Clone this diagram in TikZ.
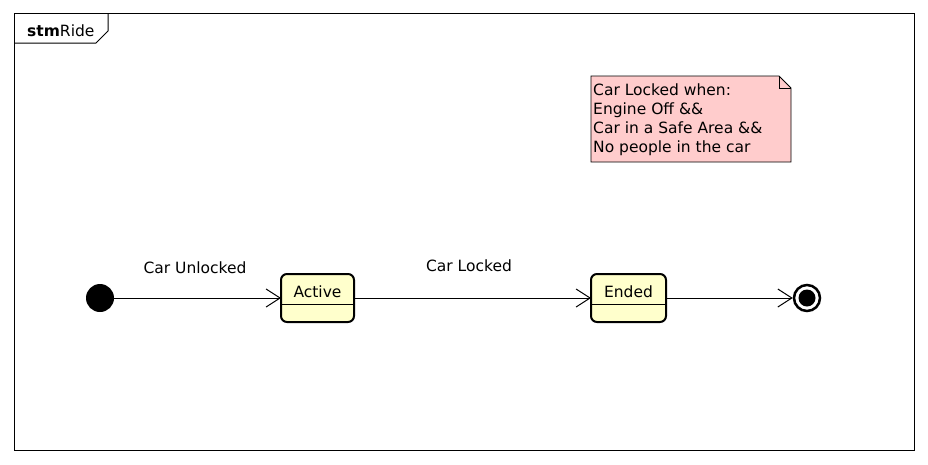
\documentclass[tikz,border=0pt]{standalone}
\usepackage{fontspec}
\setmainfont{DejaVu Sans}
\usetikzlibrary{arrows.meta}
\definecolor{notefill}{HTML}{FFCCCC}
\definecolor{statefill}{HTML}{FFFFCC}
\tikzset{
  statebox/.style={draw, line width=2pt, rounded corners=6pt, fill=statefill},
  trans/.style={line width=1pt, -{Straight Barb[length=14pt,width=18pt,line width=1pt]}},
  lbl/.style={font=\fontsize{15.5}{19}\selectfont, inner sep=0pt},
}
\begin{document}
\begin{tikzpicture}[x=1pt,y=-1pt]
\useasboundingbox (0,0) rectangle (928,464);
% frame
\draw[line width=1pt] (14,13) rectangle (914,450);
\draw[line width=1pt] (14,43) -- (96,43) -- (108,31) -- (108,13);
\node[lbl, anchor=base west] (title) at (27,36) {\textbf{stm}Ride};
% note
\draw[line width=0.8pt, fill=notefill] (591,76) -- (779,76) -- (791,88) -- (791,162) -- (591,162) -- cycle;
\draw[line width=0.8pt] (779,76) -- (779,88) -- (791,88);
\node[lbl, anchor=base west] (n1) at (593,95) {Car Locked when:};
\node[lbl, anchor=base west] (n2) at (593,114) {Engine Off \&\&};
\node[lbl, anchor=base west] (n3) at (593,133) {Car in a Safe Area \&\&};
\node[lbl, anchor=base west] (n4) at (593,152) {No people in the car};
% initial
\node[circle, fill=black, minimum size=28pt, inner sep=0pt] (init) at (100,298) {};
% Active
\draw[statebox] (281,274) rectangle (354,322);
\draw[line width=1pt] (281,304) -- (354,304);
\node[lbl, anchor=base] (activetxt) at (317.5,297) {Active};
\coordinate (activeW) at (281,298);
\coordinate (activeE) at (354,298);
% Ended
\draw[statebox] (591,274) rectangle (666,322);
\draw[line width=1pt] (591,304) -- (666,304);
\node[lbl, anchor=base] (endedtxt) at (628.5,297) {Ended};
\coordinate (endedW) at (591,298);
\coordinate (endedE) at (666,298);
% final
\node[circle, draw, line width=2.5pt, fill=white, minimum size=26pt, inner sep=0pt] (final) at (807,298) {};
\node[circle, fill=black, minimum size=17pt, inner sep=0pt] (finalin) at (807,298) {};
% transitions
\draw[trans] (init) -- (activeW);
\draw[trans] (activeE) -- (endedW);
\draw[trans] (endedE) -- (final.west);
\node[lbl, anchor=base] (l1) at (195,273) {Car Unlocked};
\node[lbl, anchor=base] (l2) at (469,271) {Car Locked};
\end{tikzpicture}
\end{document}
